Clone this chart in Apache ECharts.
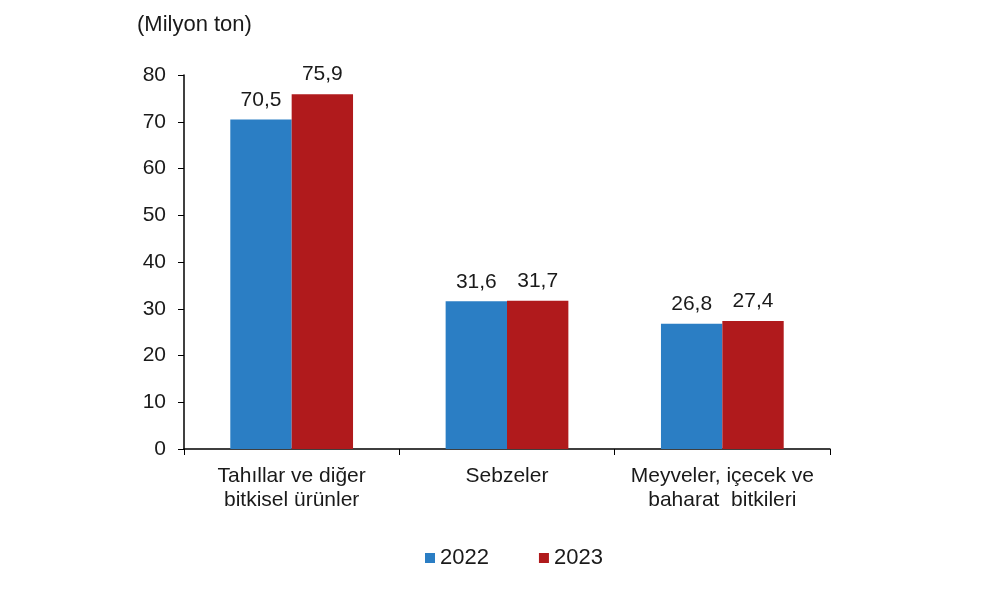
<!DOCTYPE html>
<html>
<head>
<meta charset="utf-8">
<script src="https://cdn.jsdelivr.net/npm/echarts@6/dist/echarts.min.js"></script>
<style>
    html, body { margin: 0; padding: 0; background: #fff; }
    #chart { width: 1000px; height: 593px; }
</style>
</head>
<body>
<div id="chart"></div>
<script>
// Data
var categories = ['Tahıllar ve diğer\nbitkisel ürünler', 'Sebzeler', 'Meyveler, içecek ve\nbaharat  bitkileri'];
var values2022 = [70.5, 31.6, 26.8];
var values2023 = [75.9, 31.7, 27.4];
var seriesNames = ['2022', '2023'];

window.onload = init;

function init() {
    var chart = echarts.init(document.getElementById('chart'));
    var textFont = 'Liberation Sans, Arial, sans-serif';

    // virgül ile ondalık
    function fmt(p) {
        return String(p.value.toFixed(1)).replace('.', ',');
    }

    var option = {
        backgroundColor: '#fff',
        animation: false,
        textStyle: { fontFamily: textFont, color: '#1a1a1a' },
        title: {
            text: '(Milyon ton)',
            left: 132,
            top: 9,
            textStyle: { fontSize: 22, fontWeight: 'normal', color: '#1a1a1a', fontFamily: textFont }
        },
        legend: {
            top: 547,
            left: 425,
            padding: 0,
            itemWidth: 10,
            itemHeight: 10,
            itemGap: 50,
            icon: 'rect',
            data: seriesNames,
            textStyle: { fontSize: 22, color: '#1a1a1a' }
        },
        grid: {
            left: 184,
            right: 170,
            top: 75,
            bottom: 144
        },
        xAxis: {
            type: 'category',
            data: categories,
            axisLine: { lineStyle: { color: '#000', width: 1.5 } },
            axisTick: { show: true, alignWithLabel: false, length: 6, inside: false, lineStyle: { color: '#000' } },
            axisLabel: { interval: 0, hideOverlap: false, fontSize: 21, color: '#1a1a1a', lineHeight: 24, margin: 15 }
        },
        yAxis: {
            type: 'value',
            min: 0,
            max: 80,
            interval: 10,
            splitLine: { show: false },
            axisLine: { show: true, lineStyle: { color: '#000', width: 1.5 } },
            axisTick: { show: true, length: 6, lineStyle: { color: '#000' } },
            axisLabel: { fontSize: 21, color: '#1a1a1a', margin: 18 }
        },
        series: [
            {
                name: seriesNames[0],
                type: 'bar',
                data: values2022,
                barGap: '0%',
                barCategoryGap: '43%',
                itemStyle: { color: '#2b7ec4' },
                label: { show: true, position: 'top', distance: 9, fontSize: 21, color: '#1a1a1a', formatter: fmt }
            },
            {
                name: seriesNames[1],
                type: 'bar',
                data: values2023,
                itemStyle: { color: '#b01a1c' },
                label: { show: true, position: 'top', distance: 9, fontSize: 21, color: '#1a1a1a', formatter: fmt }
            }
        ]
    };

    chart.setOption(option);
}
</script>
</body>
</html>
